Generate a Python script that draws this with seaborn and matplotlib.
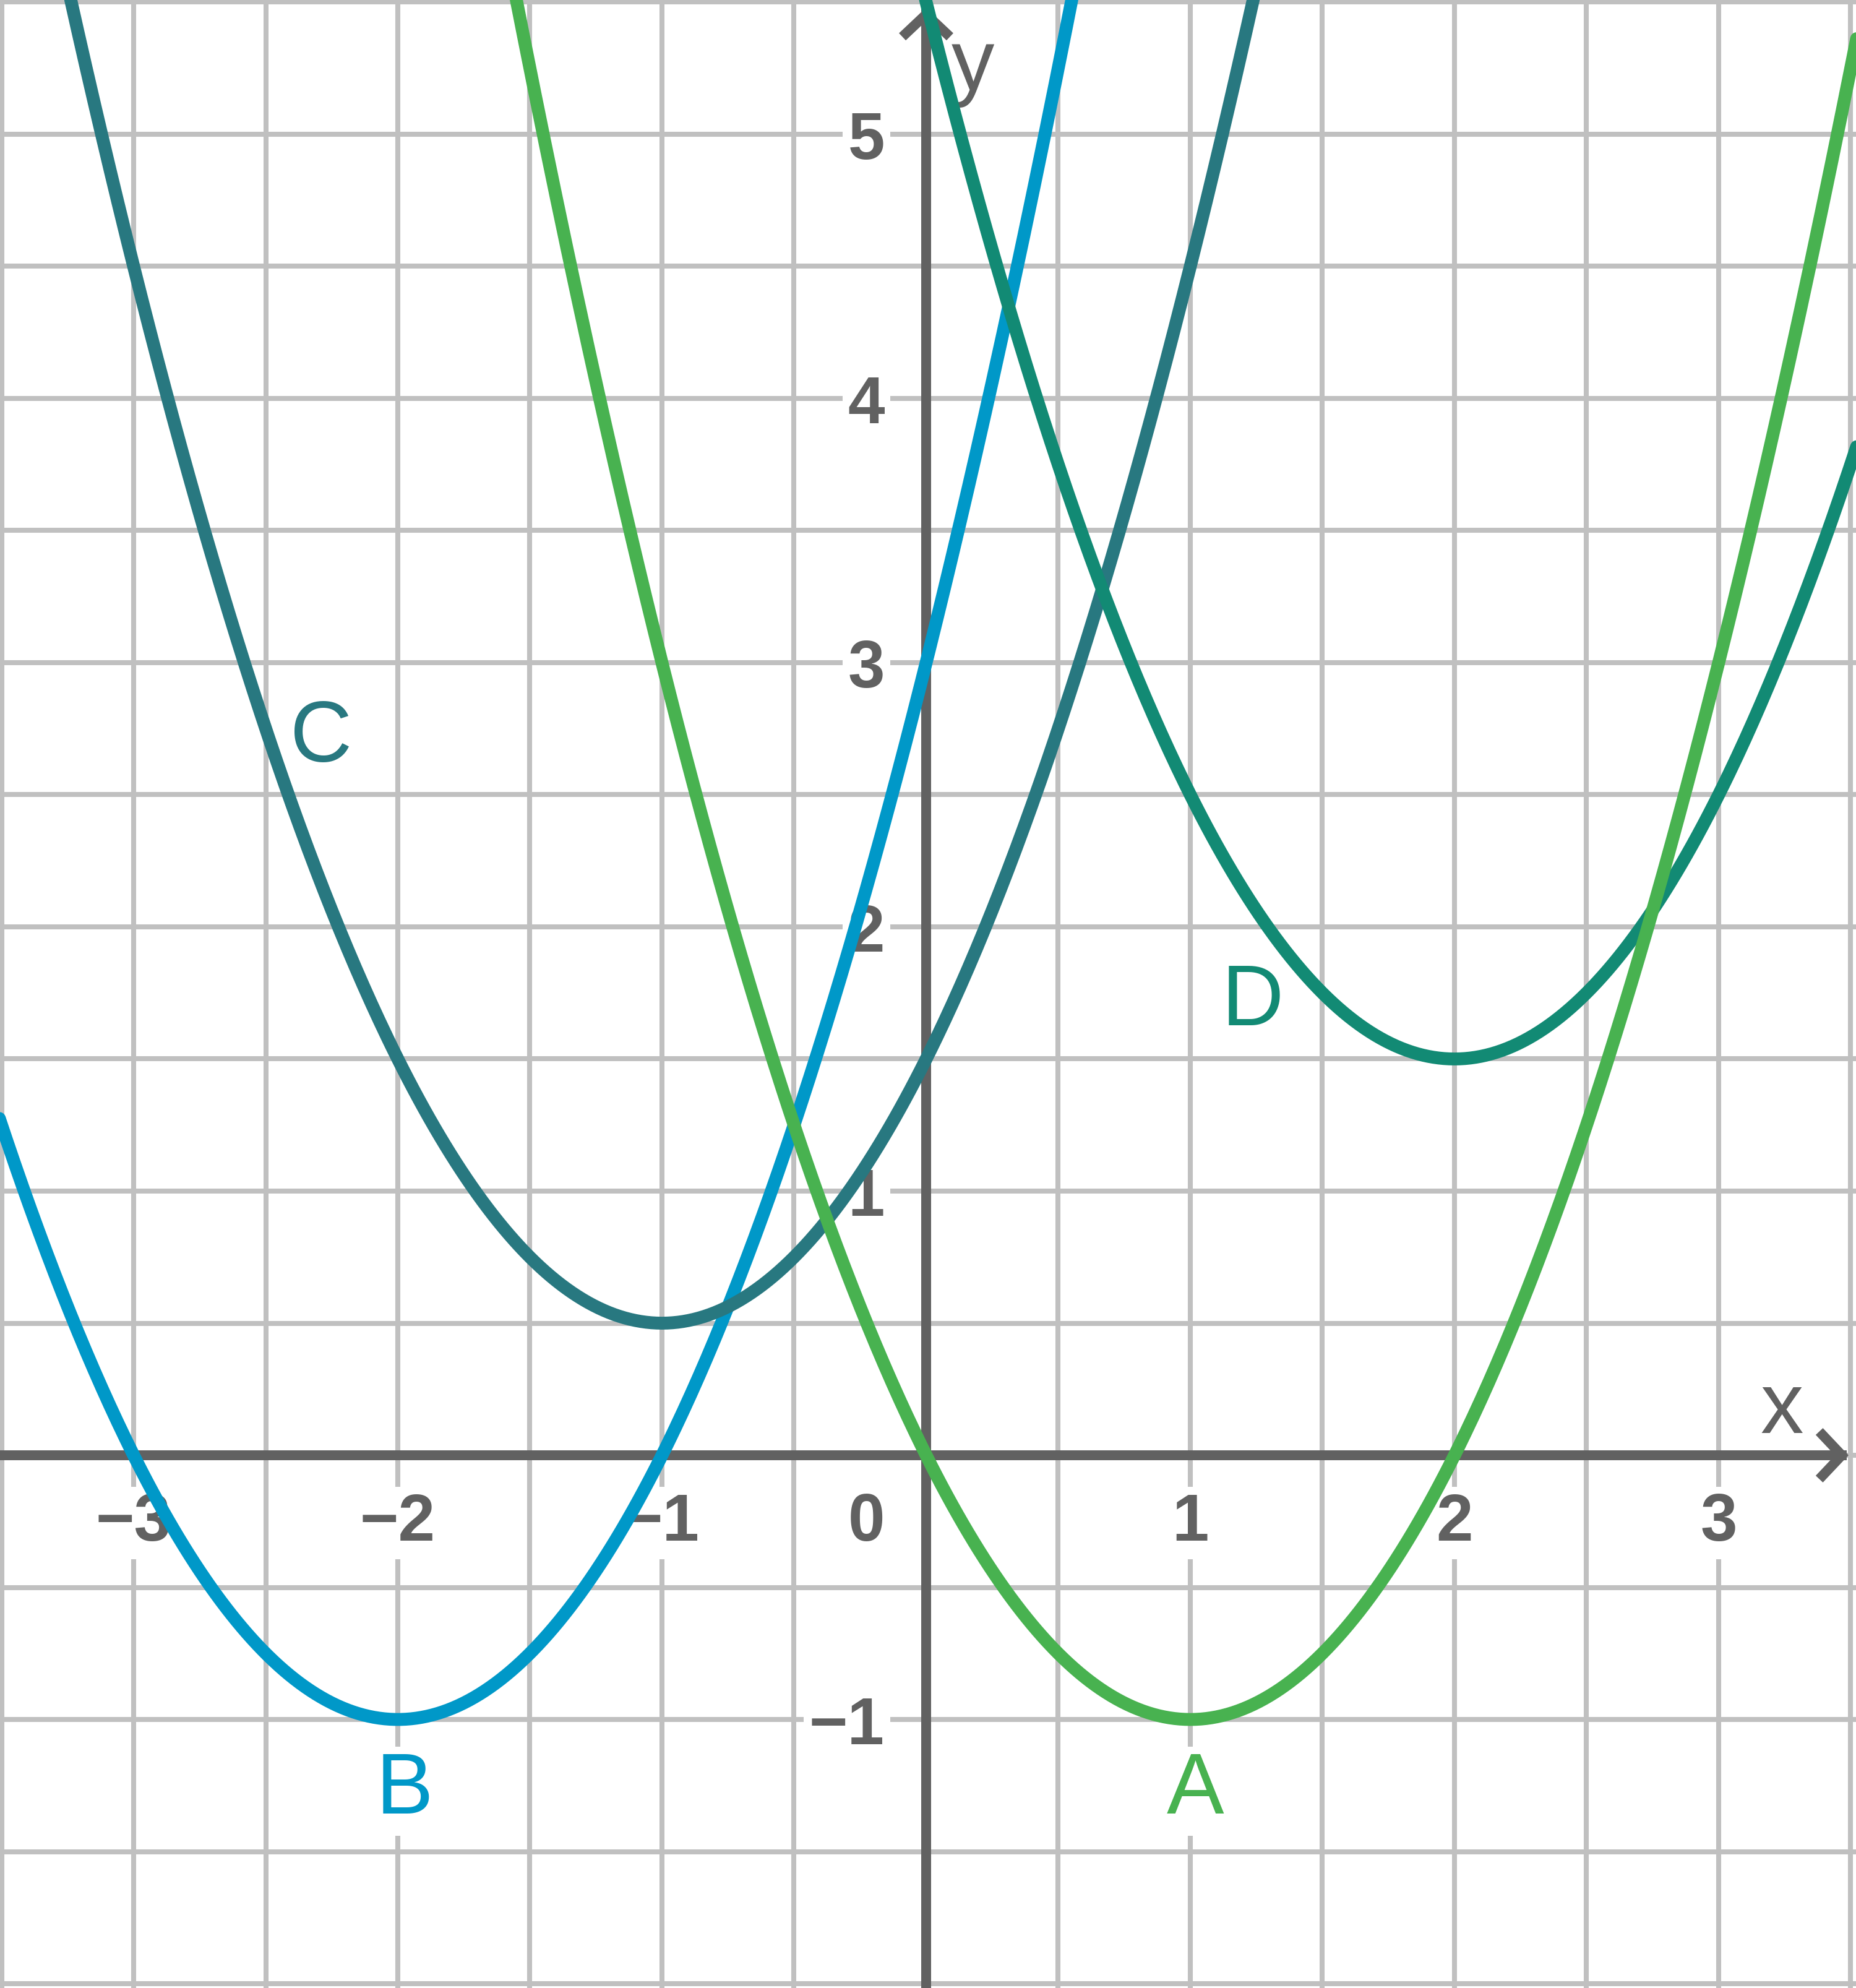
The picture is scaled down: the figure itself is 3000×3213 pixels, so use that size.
import numpy as np
import pandas as pd
import matplotlib
matplotlib.use("Agg")
import matplotlib.pyplot as plt
import seaborn as sns

# parabolas y = (x - h)^2 + k, given by their vertices
curve_names = ["B", "C", "D", "A"]
vertex_x = [-2.0, -1.0, 2.0, 1.0]
vertex_y = [-1.0, 0.5, 1.5, -1.0]
curve_colors = ["#0098C8", "#287880", "#128A74", "#48B250"]

# curve name labels (centre x, baseline y)
label_x = [-1.975, -2.29, 1.235, 1.02]
label_y = [-1.356, 2.625, 1.628, -1.356]

x_ticks = [-3, -2, -1, 1, 2, 3]
x_tick_labels = ["\u22123", "\u22122", "\u22121", "1", "2", "3"]
y_ticks = [-2, -1, 1, 2, 3, 4, 5]
y_tick_labels = ["", "\u22121", "1", "2", "3", "4", "5"]

axis_col = "#616161"
grid_col = "#C0C0C0"

sns.set_style("white")
plt.rcParams["font.family"] = ["Liberation Sans", "DejaVu Sans"]

xs = np.linspace(-3.6, 3.6, 721)
rows = []
for name, h, k in zip(curve_names, vertex_x, vertex_y):
    for x in xs:
        rows.append({"x": x, "y": (x - h) ** 2 + k, "curve": name})
df = pd.DataFrame(rows)

fig = plt.figure(figsize=(30, 32.13), dpi=100)
ax = fig.add_axes([0, 0, 1, 1])

sns.lineplot(data=df, x="x", y="y", hue="curve", hue_order=curve_names,
             palette=dict(zip(curve_names, curve_colors)), estimator=None,
             sort=False, lw=15, legend=False, zorder=5, ax=ax)

xlim = (-1497 / 427, 1503 / 427)
ylim = (-861 / 427, 2352 / 427)
ax.set_xlim(*xlim)
ax.set_ylim(*ylim)
ax.set_xlabel("")
ax.set_ylabel("")

# grid every half unit
ax.set_xticks(x_ticks)
ax.set_xticks(np.arange(-3.5, 3.51, 0.5), minor=True)
ax.set_yticks(y_ticks)
ax.set_yticks(np.arange(-2, 5.51, 0.5), minor=True)
ax.grid(which="both", color=grid_col, lw=5.8)
ax.set_axisbelow(True)
ax.tick_params(which="minor", length=0)
ax.tick_params(which="major", direction="out", length=18, width=11.5,
               color=axis_col, labelbottom=False, labelleft=False)

# axes through the origin
x_tip, y_tip = 3.466, 5.454
for side in ["top", "right"]:
    ax.spines[side].set_visible(False)
for side in ["left", "bottom"]:
    ax.spines[side].set_position(("data", 0))
    ax.spines[side].set_color(axis_col)
    ax.spines[side].set_linewidth(11.5)
    ax.spines[side].set_zorder(4)
ax.spines["bottom"].set_bounds(xlim[0], x_tip)
ax.spines["left"].set_bounds(ylim[0], y_tip)

# open arrow heads
hw, hd = 0.09, 0.085
ax.plot([x_tip - hd, x_tip, x_tip - hd], [hw, 0, -hw], color=axis_col, lw=11.5,
        solid_joinstyle="miter", solid_capstyle="butt", zorder=4, clip_on=False)
ax.plot([-hw, 0, hw], [y_tip - hd, y_tip, y_tip - hd], color=axis_col, lw=11.5,
        solid_joinstyle="miter", solid_capstyle="butt", zorder=4, clip_on=False)

box = dict(boxstyle="square,pad=0.08", fc="white", ec="none")
for xv, lab in zip(x_ticks, x_tick_labels):
    ax.text(xv, -0.323, lab, ha="center", va="baseline", fontsize=77,
            fontweight="bold", color=axis_col, bbox=box, zorder=3)
ax.text(-0.157, -0.323, "0", ha="right", va="baseline", fontsize=77,
        fontweight="bold", color=axis_col, bbox=box, zorder=3)
for yv, lab in zip(y_ticks, y_tick_labels):
    if lab:
        ax.text(-0.157, yv - 0.094, lab, ha="right", va="baseline", fontsize=77,
                fontweight="bold", color=axis_col, bbox=box, zorder=3)

ax.text(3.239, 0.084, "x", ha="center", va="baseline", fontsize=100,
        color=axis_col, zorder=3)
ax.text(0.176, 5.169, "y", ha="center", va="baseline", fontsize=100,
        color=axis_col, zorder=3)

for name, lx, ly, col in zip(curve_names, label_x, label_y, curve_colors):
    ax.text(lx, ly, name, ha="center", va="baseline", fontsize=100, color=col,
            bbox=dict(boxstyle="square,pad=0.05", fc="white", ec="none"), zorder=3)

fig.savefig("out.png", dpi=100)
